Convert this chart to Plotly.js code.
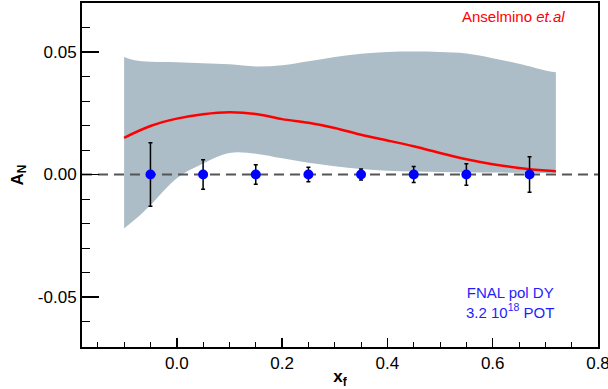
<!DOCTYPE html>
<html>
<head>
<meta charset="utf-8">
<script src="https://cdn.plot.ly/plotly-3.0.1.min.js"></script>
<style>html,body{margin:0;padding:0;background:#fff;}#chart{width:608px;height:389px;}</style>
</head>
<body>
<div id="chart"></div>
<script>
// Theory band (Anselmino et al.)
const bandX     = [-0.10, -0.08, -0.05, 0.00, 0.05, 0.10, 0.15, 0.20, 0.25, 0.30, 0.35, 0.40, 0.45, 0.50, 0.55, 0.60, 0.65, 0.70, 0.72];
const bandUpper = [0.0480, 0.0466, 0.0460, 0.0458, 0.0454, 0.0450, 0.0441, 0.0446, 0.0462, 0.0480, 0.0493, 0.0500, 0.0502, 0.0500, 0.0494, 0.0475, 0.0452, 0.0425, 0.0417];
const bandLower = [-0.0220, -0.0185, -0.0125, -0.0015, 0.0045, 0.0088, 0.0085, 0.0066, 0.0048, 0.0034, 0.0022, 0.0015, 0.0012, 0.0010, 0.0009, 0.0008, 0.0007, 0.0006, 0.0006];
// Central curve
const curveX = [-0.10, -0.05, 0.00, 0.05, 0.10, 0.15, 0.20, 0.25, 0.30, 0.35, 0.40, 0.45, 0.50, 0.55, 0.60, 0.65, 0.70, 0.72];
const curveY = [0.0150, 0.0198, 0.0228, 0.0246, 0.0254, 0.0247, 0.0226, 0.0211, 0.0190, 0.0162, 0.0139, 0.0115, 0.0088, 0.0062, 0.0042, 0.0027, 0.0016, 0.0013];
// Projected data points (FNAL pol DY)
const dataX   = [-0.05, 0.05, 0.15, 0.25, 0.35, 0.45, 0.55, 0.67];
const dataY   = [0, 0, 0, 0, 0, 0, 0, 0];
const dataErr = [0.013, 0.006, 0.004, 0.003, 0.0022, 0.0033, 0.0044, 0.0072];
// Zero reference line
const zeroX = [-0.18, 0.80];
const zeroY = [0, 0];
// Tick labels
const xTickVals = [0.0, 0.2, 0.4, 0.6, 0.8];
const xTickText = ['0.0', '0.2', '0.4', '0.6', '0.8'];
const yTickVals = [-0.05, 0.00, 0.05];
const yTickText = ['-0.05', '0.00', '0.05'];

const FONT = 'Liberation Sans, Arial, Helvetica, sans-serif';

const traces = [
  {x: bandX, y: bandLower, mode: 'lines', line: {width: 0, shape: 'spline', color: 'rgba(0,0,0,0)'}, showlegend: false, hoverinfo: 'skip'},
  {x: bandX, y: bandUpper, mode: 'lines', fill: 'tonexty', fillcolor: 'rgb(173,189,199)', line: {width: 0, shape: 'spline', color: 'rgba(0,0,0,0)'}, showlegend: false, hoverinfo: 'skip'},
  {x: zeroX, y: zeroY, mode: 'lines', line: {color: 'rgb(85,85,85)', width: 2, dash: '10px,6px'}, showlegend: false, hoverinfo: 'skip'},
  {x: curveX, y: curveY, mode: 'lines', line: {color: 'rgb(255,0,0)', width: 2.5, shape: 'spline'}, showlegend: false},
  {x: dataX, y: dataY, mode: 'markers', marker: {color: 'rgb(0,0,255)', size: 10},
   error_y: {type: 'data', array: dataErr, visible: true, color: 'rgb(0,0,0)', thickness: 1.5, width: 2},
   showlegend: false}
];

const layout = {
  width: 608, height: 389,
  margin: {l: 82, r: 10, t: 3, b: 42, pad: 0},
  paper_bgcolor: '#fff', plot_bgcolor: '#fff',
  font: {family: FONT, size: 17, color: '#000'},
  showlegend: false,
  xaxis: {
    range: [-0.18, 0.80], tickmode: 'array', tickvals: xTickVals, ticktext: xTickText,
    ticks: 'inside', ticklen: 9, tickwidth: 1.5, tickcolor: '#000',
    minor: {dtick: 0.05, tick0: 0, ticks: 'inside', ticklen: 5, tickwidth: 1, tickcolor: '#000'},
    showline: true, linecolor: '#000', linewidth: 2, mirror: true,
    showgrid: false, zeroline: false, ticklabeloverflow: 'allow',
    tickfont: {family: FONT, size: 17, color: '#000'},
    title: {text: '<b>x<sub>f</sub></b>', font: {family: FONT, size: 17, color: '#000'}, standoff: 6}
  },
  yaxis: {
    range: [-0.0704, 0.0700], tickmode: 'array', tickvals: yTickVals, ticktext: yTickText,
    ticks: 'inside', ticklen: 17, tickwidth: 1.5, tickcolor: '#000',
    minor: {dtick: 0.01, tick0: 0, ticks: 'inside', ticklen: 8, tickwidth: 1, tickcolor: '#000'},
    showline: true, linecolor: '#000', linewidth: 2, mirror: true,
    showgrid: false, zeroline: false,
    tickfont: {family: FONT, size: 17, color: '#000'},
    title: {text: '<b>A<sub>N</sub></b>', font: {family: FONT, size: 17, color: '#000'}, standoff: 10}
  },
  annotations: [
    {text: 'Anselmino <i>et.al</i>', xref: 'paper', yref: 'paper', x: 0.94, y: 0.96, xanchor: 'right', yanchor: 'middle', showarrow: false,
     font: {family: FONT, size: 15, color: 'rgb(255,0,0)'}},
    {text: 'FNAL pol DY<br>3.2 10<sup>18</sup> POT', xref: 'paper', yref: 'paper', x: 0.83, y: 0.13, xanchor: 'center', yanchor: 'middle', showarrow: false, align: 'center',
     font: {family: FONT, size: 15, color: 'rgb(30,30,255)'}}
  ]
};

Plotly.newPlot('chart', traces, layout, {staticPlot: true, displayModeBar: false});
</script>
</body>
</html>
